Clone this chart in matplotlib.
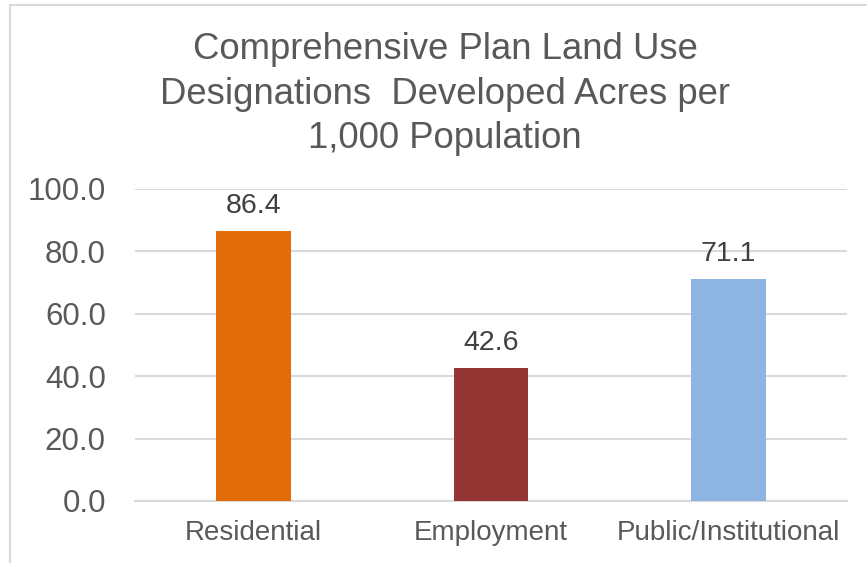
import matplotlib
matplotlib.use("Agg")
import matplotlib.pyplot as plt
from matplotlib.patches import Rectangle

categories = ["Residential", "Employment", "Public/Institutional"]
values = [86.4, 42.6, 71.1]
bar_colors = ["#E36C0A", "#943634", "#8EB4E3"]
yticks = [0, 20, 40, 60, 80, 100]
title = "Comprehensive Plan Land Use\nDesignations  Developed Acres per\n1,000 Population"

plt.rcParams["font.family"] = ["Liberation Sans", "DejaVu Sans"]

W, H = 867, 563
fig = plt.figure(figsize=(W / 100, H / 100), dpi=100)

# chart frame
fig.patches.append(Rectangle((10 / W, -0.1), 1.2, 1.1 - 5 / H, transform=fig.transFigure,
                             fill=False, edgecolor="#D9D9D9", linewidth=1.5))

ax = fig.add_axes([135 / W, 62 / H, 712 / W, 312 / H])
x = range(len(categories))
bars = ax.bar(x, values, width=0.316, color=bar_colors, zorder=3)

ax.set_xlim(-0.5, len(categories) - 0.5)
ax.set_ylim(0, 100)
ax.set_yticks(yticks)
ax.set_yticklabels([f"{v:.1f}" for v in yticks])
ax.set_xticks(list(x))
ax.set_xticklabels(categories)

ax.grid(axis="y", color="#D9D9D9", linewidth=1.5, zorder=0)
for side in ["left", "right", "top"]:
    ax.spines[side].set_visible(False)
ax.spines["bottom"].set_color("#D9D9D9")
ax.spines["bottom"].set_linewidth(1.5)
ax.tick_params(axis="y", length=0, pad=21, labelsize=22.5, labelcolor="#595959")
ax.tick_params(axis="x", length=0, pad=14, labelsize=20, labelcolor="#595959")

for rect, v in zip(bars, values):
    ax.annotate(f"{v:.1f}", (rect.get_x() + rect.get_width() / 2, v),
                xytext=(0, 13), textcoords="offset points",
                ha="center", va="baseline", fontsize=20.5, color="#404040")

fig.text(445 / W, 1 - 94 / H, title, ha="center", va="center",
         fontsize=26.3, color="#595959", linespacing=1.36)

fig.savefig("out.png", dpi=100)
